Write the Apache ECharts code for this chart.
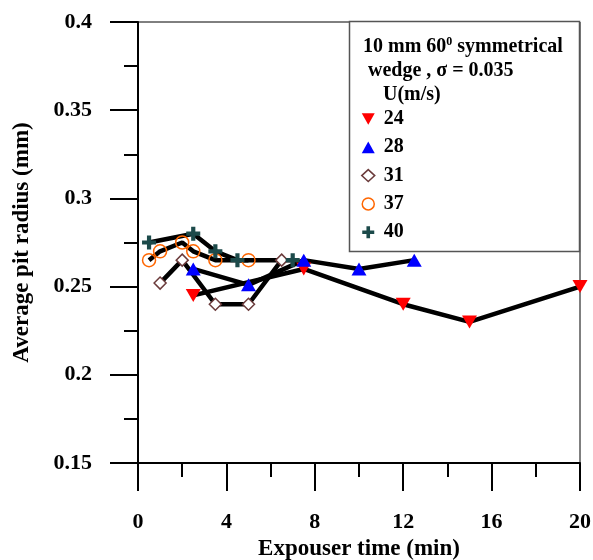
<!DOCTYPE html>
<html>
<head>
<meta charset="utf-8">
<script src="https://cdn.jsdelivr.net/npm/echarts@6/dist/echarts.min.js"></script>
<style>
  html, body { margin: 0; padding: 0; background: #fff; }
  #chart { width: 593px; height: 560px; }
</style>
</head>
<body>
<div id="chart"></div>
<script>
// 曝露时间 (min) 与平均点蚀半径 (mm)
var u24x = [2.5, 7.5, 12, 15, 20];
var u24y = [0.245, 0.26, 0.24, 0.23, 0.25];
var u28x = [2.5, 5, 7.5, 10, 12.5];
var u28y = [0.26, 0.251, 0.265, 0.26, 0.265];
var u31x = [1, 2, 3.5, 5, 6.5];
var u31y = [0.252, 0.265, 0.24, 0.24, 0.265];
var u37x = [0.5, 1, 2, 2.5, 3.5, 5];
var u37y = [0.265, 0.27, 0.275, 0.27, 0.265, 0.265];
var u40x = [0.5, 2.5, 3.5, 4.5, 7];
var u40y = [0.275, 0.28, 0.27, 0.265, 0.265];
var speeds = ['24', '28', '31', '37', '40'];

var FONT = 'Liberation Serif';
var downTri = 'path://M0,0 L10,0 L5,9 Z';
var upTri = 'path://M5,0 L10,9 L0,9 Z';
var plus = 'path://M3.5,0 H6.5 V3.5 H10 V6.5 H6.5 V10 H3.5 V6.5 H0 V3.5 H3.5 Z';

function pairs(xs, ys) {
    return xs.map(function (x, i) { return [x, ys[i]]; });
}

function lineSeries(name, xs, ys, symbol, size, itemStyle) {
    return {
        name: name,
        type: 'line',
        data: pairs(xs, ys),
        symbol: symbol,
        symbolSize: size,
        showAllSymbol: true,
        lineStyle: { color: '#000', width: 4.5 },
        itemStyle: itemStyle,
        emphasis: { disabled: true },
        animation: false
    };
}

function titleText(left, top, rich) {
    return {
        type: 'text',
        left: left, top: top,
        z: 2,
        style: {
            text: rich,
            rich: {
                a: { fontFamily: FONT, fontWeight: 'bold', fontSize: 20, fill: '#000' },
                s: { fontFamily: FONT, fontWeight: 'bold', fontSize: 12, fill: '#000', padding: [0, 0, 9, 0] }
            }
        }
    };
}

var myChart = echarts.init(document.getElementById('chart'));

var option = {
    backgroundColor: '#fff',
    grid: {
        left: 138, right: 13, top: 22, bottom: 97,
        containLabel: false,
        outerBoundsMode: 'none',
        show: true, borderColor: '#000', borderWidth: 1
    },
    xAxis: {
        type: 'value',
        min: 0, max: 20, interval: 4,
        name: 'Expouser time (min)',
        nameLocation: 'middle',
        nameGap: 74,
        nameTextStyle: { fontFamily: FONT, fontWeight: 'bold', fontSize: 23, color: '#000' },
        axisLine: { lineStyle: { color: '#000', width: 2 } },
        axisTick: { inside: false, length: 28, lineStyle: { color: '#000', width: 2 } },
        minorTick: { show: true, splitNumber: 2, length: 14, lineStyle: { color: '#000', width: 2 } },
        axisLabel: { margin: 48, fontFamily: FONT, fontWeight: 'bold', fontSize: 22, color: '#000' },
        splitLine: { show: false }
    },
    yAxis: {
        type: 'value',
        min: 0.15, max: 0.4, interval: 0.05,
        name: 'Average pit radius (mm)',
        nameLocation: 'middle',
        nameGap: 104,
        nameTextStyle: { fontFamily: FONT, fontWeight: 'bold', fontSize: 23, color: '#000' },
        axisLine: { lineStyle: { color: '#000', width: 2 } },
        axisTick: { inside: false, length: 28, lineStyle: { color: '#000', width: 2 } },
        minorTick: { show: true, splitNumber: 2, length: 14, lineStyle: { color: '#000', width: 2 } },
        axisLabel: { margin: 46, fontFamily: FONT, fontWeight: 'bold', fontSize: 22, color: '#000' },
        splitLine: { show: false }
    },
    legend: {
        orient: 'vertical',
        left: 361, top: 109,
        padding: 0,
        itemWidth: 13, itemHeight: 12, itemGap: 8.3,
        selectedMode: false,
        textStyle: { fontFamily: FONT, fontWeight: 'bold', fontSize: 20, color: '#000', lineHeight: 20, padding: [0, 0, 0, 4] },
        data: [
            { name: speeds[0], icon: downTri, itemStyle: { color: '#ff0000', borderWidth: 0 } },
            { name: speeds[1], icon: upTri, itemStyle: { color: '#0000ff', borderWidth: 0 } },
            { name: speeds[2], icon: 'diamond', itemStyle: { color: '#fff', borderColor: '#6b3b3b', borderWidth: 1.5 } },
            { name: speeds[3], icon: 'circle', itemStyle: { color: '#fff', borderColor: '#ff6600', borderWidth: 1.5 } },
            { name: speeds[4], icon: plus, itemStyle: { color: '#1c4a4a', borderWidth: 0 } }
        ]
    },
    graphic: [
        {
            type: 'rect',
            shape: { x: 349.5, y: 21.5, width: 230, height: 230 },
            style: { fill: '#fff', stroke: '#555', lineWidth: 1.5 },
            z: 1
        },
        titleText(363, 36, '{a|10 mm 60}{s|0}{a| symmetrical}'),
        titleText(368, 61, '{a|wedge , σ = 0.035}'),
        titleText(383, 85, '{a|U(m/s)}')
    ],
    series: [
        lineSeries(speeds[0], u24x, u24y, downTri, [15, 13], { color: '#ff0000' }),
        lineSeries(speeds[1], u28x, u28y, upTri, [15, 13], { color: '#0000ff' }),
        lineSeries(speeds[2], u31x, u31y, 'diamond', [12, 12], { color: '#fff', borderColor: '#6b3b3b', borderWidth: 1.5 }),
        lineSeries(speeds[3], u37x, u37y, 'circle', [13, 13], { color: 'rgba(255,255,255,0)', borderColor: '#ff6600', borderWidth: 1.5 }),
        lineSeries(speeds[4], u40x, u40y, plus, [14, 14], { color: '#1c4a4a' })
    ]
};

myChart.setOption(option);
</script>
</body>
</html>
